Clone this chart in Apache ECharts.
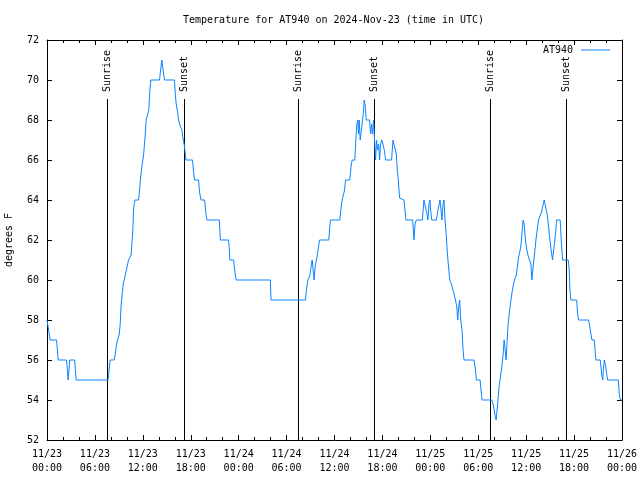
<!DOCTYPE html>
<html>
<head>
<meta charset="utf-8">
<script src="https://cdn.jsdelivr.net/npm/echarts@6/dist/echarts.min.js"></script>
<style>html,body{margin:0;padding:0;background:#fff;}#c{width:640px;height:480px;}</style>
</head>
<body>
<div id="c"></div>
<script>
// Hours since 2024-11-23 00:00 UTC
var hours = [0,0.15,0.4,1.2,1.4,2.45,2.65,2.85,3.45,3.65,7.65,7.9,8.4,8.53,8.7,8.82,9.03,9.16,9.28,9.45,9.53,9.66,9.91,10.08,10.2,10.41,10.54,10.66,10.75,10.83,10.95,11.0,11.46,11.54,11.75,11.92,12.08,12.25,12.42,12.58,12.75,12.88,13.0,14.09,14.17,14.38,14.5,14.59,14.72,15.97,16.06,16.18,16.35,16.47,16.68,16.9,17.02,17.19,17.4,18.23,18.35,18.48,18.98,19.1,19.28,19.73,19.9,20.03,21.58,21.7,22.74,22.83,22.9,23.37,23.5,23.6,23.7,27.97,28.05,32.36,32.49,32.66,32.9,33.08,33.2,33.33,33.45,33.58,33.74,33.95,34.12,35.29,35.41,35.5,36.67,36.79,36.96,37.26,37.38,37.92,38.09,38.22,38.55,38.67,38.8,38.92,39.0,39.09,39.22,39.47,39.6,39.72,39.85,39.97,40.39,40.52,40.64,40.77,40.89,41.02,41.14,41.27,41.39,41.52,41.65,41.77,41.94,42.11,42.23,42.4,43.15,43.32,43.57,43.74,43.86,43.99,44.15,44.7,44.82,44.95,45.79,45.87,45.95,46.08,46.25,47.0,47.2,47.42,47.58,47.7,47.83,47.96,48.04,48.17,48.75,48.96,49.21,49.34,49.46,49.59,49.71,49.84,50.0,50.14,50.26,50.43,50.64,50.84,50.97,51.14,51.3,51.43,51.56,51.68,51.8,51.97,52.1,52.22,53.47,53.65,53.77,54.23,54.35,54.48,55.7,55.86,55.99,56.11,56.24,56.41,56.62,56.83,56.99,57.12,57.24,57.37,57.49,57.62,57.74,57.87,58.03,58.2,58.37,58.54,58.74,58.91,59.08,59.25,59.37,59.5,59.62,59.75,59.91,60.08,60.25,60.42,60.59,60.71,60.88,61.05,61.22,61.38,61.55,61.75,61.92,62.09,62.26,62.47,62.63,62.8,62.97,63.13,63.3,63.5,63.59,63.72,63.8,64.26,64.39,64.48,64.56,65.27,65.39,65.48,65.6,66.32,66.44,66.57,67.82,67.99,68.11,68.24,68.53,68.66,68.74,69.28,69.45,69.58,69.66,69.79,69.95,70.08,70.2,71.54,71.66,71.79,72];
var temps = [58,58,57,57,56,56,55,56,56,55,55,56,56,56.25,56.75,57,57.25,57.75,58.75,58.75,59.75,60,60,60.75,61,61,61.25,62,62.5,63.5,63.6,64,64,64.25,65.25,65.8,66.2,67,68,68,68.5,69.5,70,70,70.3,71,71,70.3,70,70,69.3,68.8,68.4,68,67.7,67.5,67.1,66.75,66,66,65.4,65,65,64.4,64,64,63.3,63,63,62,62,61.5,61,61,60.5,60.2,60,60,59,59,59.5,60,60.2,60.7,61,60.5,60,60.7,61,61.5,62,62,62.7,63,63,63.5,64,64.5,65,65,65.75,66,66,67,67.8,68,67.3,68,67,67,68.3,69,68.7,68,68,67.3,67.8,67.3,68,67,66,67,66.5,66.8,66,66.8,67,67,66.5,66,66,67,67,66.3,65.5,65,64.1,64,63.5,63,63,62.5,62,62.8,63,63,64,64,63.3,63,63.8,64,63.5,63,63,63.5,64,63.5,63,63.8,64,63,62.2,61.3,60.75,60,59.8,59.7,59.3,59,58.7,58,58.7,59,58,57.5,56.5,56,56,55.5,55,55,54.5,54,54,53.8,53.5,53.2,53,53.7,54.7,55.3,55.8,56.3,57,56.5,56,57,57.8,58.3,58.8,59.3,59.7,60,60.2,60.7,61.2,61.5,61.8,62.5,63,62.8,62,61.5,61.2,61,60.8,60,60.7,61.3,62,62.5,63,63.1,63.4,63.7,64,64,63.3,62.7,62,61.5,61,61,62,62.5,63,63,62,61.5,61,61,60.5,59.5,59,59,58.3,58,58,57.6,57.3,57,57,56.3,56,56,55.3,55,55.5,56,55.7,55.3,55,55,54.3,54,54];

var sunHours = [7.48, 17.12, 31.48, 40.98, 55.5, 65.03];
var sunLabels = ['Sunrise', 'Sunset', 'Sunrise', 'Sunset', 'Sunrise', 'Sunset'];
var sunLineTop = 69.05;

var xTickLabels = ['11/23\n00:00','11/23\n06:00','11/23\n12:00','11/23\n18:00','11/24\n00:00','11/24\n06:00','11/24\n12:00','11/24\n18:00','11/25\n00:00','11/25\n06:00','11/25\n12:00','11/25\n18:00','11/26\n00:00'];

var seriesName = 'AT940';
var titleText = 'Temperature for AT940 on 2024-Nov-23 (time in UTC)';
var yName = 'degrees F';

var FONT = 'DejaVu Sans Mono';
var LINE_COLOR = '#0a84ff';
var chart = echarts.init(document.getElementById('c'), null, {renderer: 'canvas'});

var tempData = hours.map(function (h, i) { return [h, temps[i]]; });
var sunData = sunHours.map(function (h, i) { return [h, i]; });

var tickStyle = {color: '#000', width: 1};
function xAxisDef(pos, showLabels) {
  return {
    type: 'value', min: 0, max: 72, interval: 6, position: pos,
    axisLine: {show: true, onZero: false, lineStyle: tickStyle},
    axisTick: {show: true, inside: true, length: 5, lineStyle: tickStyle},
    minorTick: {show: true, splitNumber: 3, length: 3, lineStyle: tickStyle},
    splitLine: {show: false},
    axisLabel: {
      show: showLabels, color: '#000', fontFamily: FONT, fontSize: 10, lineHeight: 14, margin: 7,
      showMinLabel: true, showMaxLabel: true, hideOverlap: false,
      formatter: function (v) { return xTickLabels[Math.round(v / 6)]; }
    }
  };
}
function yAxisDef(pos, showLabels) {
  return {
    type: 'value', min: 52, max: 72, interval: 2, position: pos,
    name: showLabels ? yName : '', nameLocation: 'middle', nameGap: 33, nameRotate: 90,
    nameTextStyle: {color: '#000', fontFamily: FONT, fontSize: 10},
    axisLine: {show: true, onZero: false, lineStyle: tickStyle},
    axisTick: {show: true, inside: true, length: 5, lineStyle: tickStyle},
    splitLine: {show: false},
    axisLabel: {show: showLabels, color: '#000', fontFamily: FONT, fontSize: 10, margin: 8}
  };
}

var option = {
  animation: false,
  backgroundColor: '#fff',
  title: {
    text: titleText, left: 183, top: 15, padding: 0,
    textStyle: {color: '#000', fontFamily: FONT, fontSize: 10, fontWeight: 'normal'}
  },
  legend: {
    data: [{name: seriesName, icon: 'rect'}], right: 30, top: 45, align: 'right', padding: 0,
    itemWidth: 29, itemHeight: 1, itemGap: 0,
    itemStyle: {color: LINE_COLOR},
    textStyle: {color: '#000', fontFamily: FONT, fontSize: 10, padding: [0, 3, 0, 0]}
  },
  grid: {left: 47, right: 18, top: 40, bottom: 40, containLabel: false, outerBoundsMode: 'none'},
  xAxis: [xAxisDef('bottom', true), xAxisDef('top', false)],
  yAxis: [yAxisDef('left', true), yAxisDef('right', false)],
  series: [
    {
      type: 'custom', name: 'sun', xAxisIndex: 0, yAxisIndex: 0, silent: true,
      data: sunData,
      encode: {x: 0},
      renderItem: function (params, api) {
        var h = api.value(0);
        var top = api.coord([h, sunLineTop]);
        var bot = api.coord([h, 52]);
        var x = Math.round(top[0]) + 0.5;
        return {
          type: 'group',
          children: [
            {type: 'line', shape: {x1: x, y1: top[1], x2: x, y2: bot[1]}, style: {stroke: '#000', lineWidth: 1}},
            {type: 'text', x: x, y: top[1] - 7, rotation: Math.PI / 2,
             style: {text: sunLabels[params.dataIndex], font: '10px "' + FONT + '"', fill: '#000', align: 'left', verticalAlign: 'middle'}}
          ]
        };
      }
    },
    {
      type: 'line', name: seriesName, xAxisIndex: 0, yAxisIndex: 0,
      data: tempData, symbol: 'none', showSymbol: false,
      lineStyle: {color: LINE_COLOR, width: 1},
      itemStyle: {color: LINE_COLOR}
    }
  ]
};
chart.setOption(option);
</script>
</body>
</html>
